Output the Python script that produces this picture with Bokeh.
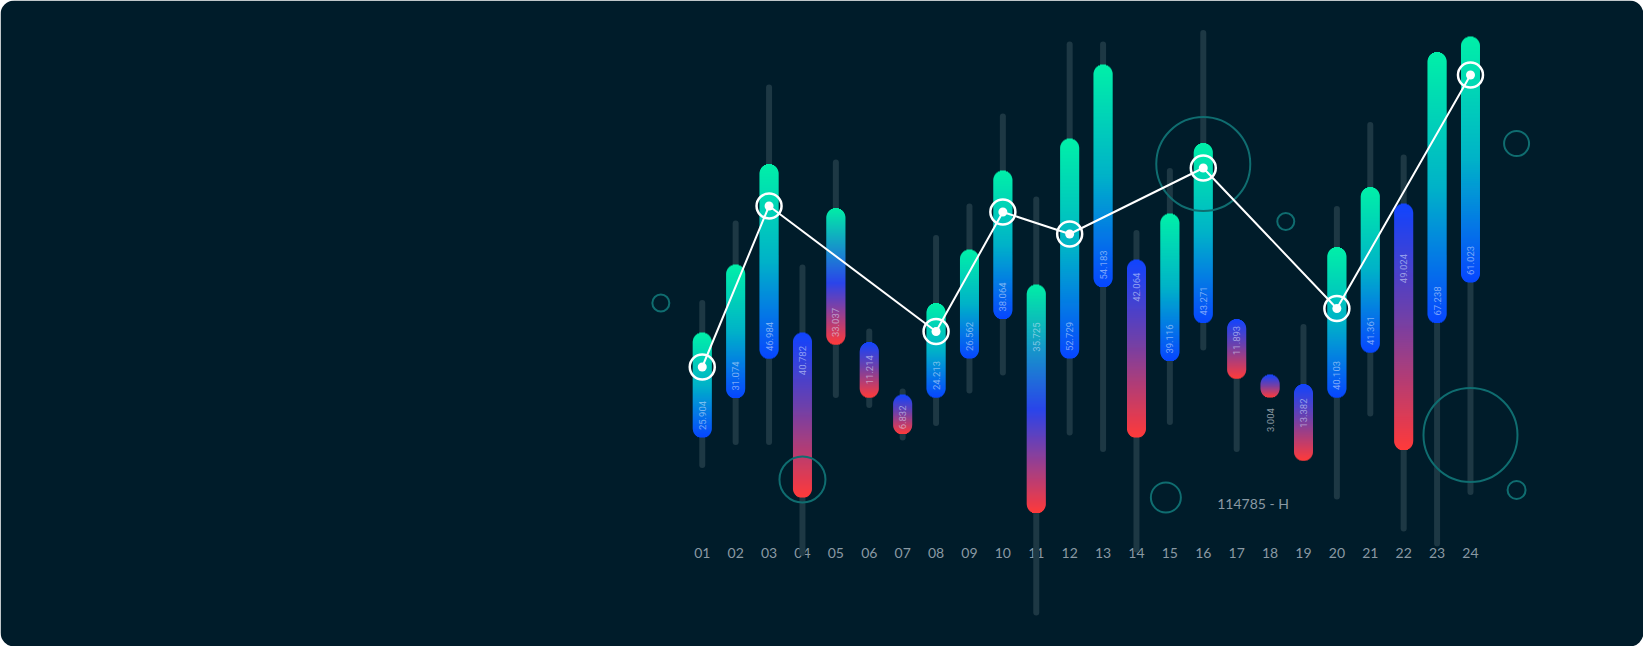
import numpy as np
from bokeh.plotting import figure
from bokeh.models import ColumnDataSource, Range1d, BoxAnnotation
from bokeh.core.properties import value
from bokeh.embed import file_html
from bokeh.resources import INLINE

# ---------------- data (y in arbitrary value units) -------------
hours = ["01", "02", "03", "04", "05", "06", "07", "08", "09", "10", "11", "12",
         "13", "14", "15", "16", "17", "18", "19", "20", "21", "22", "23", "24"]
body_top = [62.8, 76.4, 96.5, 62.8, 87.7, 60.9, 50.4, 68.7, 79.4, 95.2, 72.4, 101.6,
            116.4, 77.4, 86.6, 100.7, 65.5, 54.4, 52.5, 79.9, 91.9, 88.6, 118.9, 122.0]
body_bottom = [41.8, 49.7, 57.6, 29.8, 60.4, 49.8, 42.5, 49.8, 57.6, 65.5, 26.7, 57.6,
               71.9, 41.8, 57.1, 64.7, 53.6, 49.8, 37.2, 49.8, 58.8, 39.3, 64.7, 72.8]
wick_high = [69.3, 85.2, 112.4, 76.4, 97.4, 63.6, 51.6, 82.3, 88.6, 106.6, 90.0, 121.0,
             121.0, 83.3, 95.7, 123.3, 65.5, 54.4, 64.5, 88.1, 104.9, 98.4, 118.9, 122.0]
wick_low = [35.7, 40.3, 40.3, 18.1, 49.7, 47.7, 41.2, 44.1, 50.6, 54.2, 6.2, 42.2,
            38.9, 18.8, 44.3, 59.2, 38.9, 49.8, 37.2, 29.4, 46.0, 23.0, 20.0, 30.3]
body_values = ["25.904", "31.074", "46.984", "40.782", "33.037", "11.214", "6.832", "24.213",
               "26.562", "38.064", "35.725", "52.729", "54.183", "42.064", "39.116", "43.271",
               "11.893", "3.004", "13.382", "40.103", "41.361", "49.024", "67.238", "61.023"]
kind = ["up", "up", "up", "down", "mixed", "down", "down", "up", "up", "up", "mixed", "up",
        "up", "down", "up", "up", "down", "down", "down", "up", "up", "down", "up", "up"]

line_hours = [1, 3, 8, 10, 12, 16, 20, 24]
line_values = [55.9, 88.1, 63.0, 86.9, 82.5, 95.7, 67.6, 114.3]

ring_x = [-0.24, 4.0, 14.88, 16.0, 18.47, 25.38, 24.0, 25.38]
ring_y = [68.7, 33.4, 29.8, 96.5, 85.0, 100.6, 42.3, 31.3]
ring_r = [8.5, 23, 15, 47, 8.5, 12.5, 47, 9]

tag_text = "114785 - H"
tag_x = 17.49
tag_y = 28.6
tick_row_y = 18.8

# ---------------- styles --------------------------------------------------------------
W, H = 1643, 646
X0, X1 = -20.01, 29.18
Y0, Y1 = 0.0, 129.2
PXY = H / (Y1 - Y0)          # pixels per y unit
BG = "#001c2a"
WICK = "#1d3844"
BODY_W = 19.0
R = BODY_W / 2
# where the value label sits in each body ("b" = near bottom, number = fraction from top)
label_place = ["b", "b", "b", 0.17, "b", 0.5, 0.58, "b", "b", "b", 0.23, "b",
               "b", 0.156, "b", "b", 0.36, "out", 0.38, "b", "b", 0.264, "b", "b"]

stops = {
    "up": [(0.0, "#00f0a8"), (0.5, "#00b2c8"), (1.0, "#0746ff")],
    "down": [(0.0, "#1044ff"), (0.45, "#6e40aa"), (1.0, "#ff3a3a")],
    "mixed": [(0.0, "#00eea6"), (0.55, "#2a44ea"), (1.0, "#ff3a3a")],
}


def hex2rgb(h):
    h = h.lstrip("#")
    return np.array([int(h[i:i + 2], 16) for i in (0, 2, 4)], dtype=float)


def grad(st, t):
    t = min(max(t, 0.0), 1.0)
    for (t0, c0), (t1, c1) in zip(st[:-1], st[1:]):
        if t <= t1:
            f = (t - t0) / (t1 - t0) if t1 > t0 else 0
            c = hex2rgb(c0) * (1 - f) + hex2rgb(c1) * f
            return "#%02x%02x%02x" % tuple(int(round(v)) for v in c)
    return st[-1][1]


p = figure(width=W, height=H, x_range=Range1d(X0, X1), y_range=Range1d(Y0, Y1),
           output_backend="svg", toolbar_location=None,
           x_axis_location=None, y_axis_location=None, min_border=0,
           background_fill_color="white", border_fill_color="white",
           outline_line_color=None)
p.grid.grid_line_color = None

card = BoxAnnotation(left=X0, right=X1, bottom=Y0, top=Y1, fill_color=BG, fill_alpha=1,
                     line_color=None, border_radius=14, level="underlay")
p.add_layout(card)

xs = list(range(1, 25))

# tick labels (drawn under wicks, as in the reference)
p.text(x=xs, y=[tick_row_y] * 24, text=hours, text_align="center", text_baseline="middle",
       text_font=value("Lato"), text_font_size="14px", text_color="#8a99a3")

# wicks
wsrc = ColumnDataSource(dict(x=xs, y0=[v - 3 / PXY for v in wick_high],
                             y1=[v + 3 / PXY for v in wick_low]))
p.segment(x0="x", y0="y0", x1="x", y1="y1", source=wsrc, line_width=6,
          line_color=WICK, line_cap="round")

# gradient bodies: 1px slices whose width follows the rounded (stadium) outline
sx, sy0, sy1, sc, sw = [], [], [], [], []
STEP = 1.0
for i, x in enumerate(xs):
    st = stops[kind[i]]
    top, bot = body_top[i], body_bottom[i]
    L = (top - bot) * PXY
    n = int(np.ceil(L / STEP))
    for j in range(n):
        ya_px = j * STEP
        yb_px = min(L, (j + 1) * STEP)
        yc = (ya_px + yb_px) / 2
        if yc < R:
            d = R - yc
        elif yc > L - R:
            d = yc - (L - R)
        else:
            d = 0.0
        w = 2 * np.sqrt(max(R * R - d * d, 0.0))
        if w < 0.5:
            continue
        sx.append(x)
        sy0.append(top - ya_px / PXY)
        sy1.append(top - min(L, yb_px + 0.6) / PXY)
        sc.append(grad(st, yc / L))
        sw.append(w)

ssrc = ColumnDataSource(dict(x=sx, y0=sy0, y1=sy1, c=sc, w=sw))
p.segment(x0="x", y0="y0", x1="x", y1="y1", source=ssrc, line_width="w",
          line_color="c", line_cap="butt")

# value labels inside bodies
lx, ly, lt, ox, oy, ot = [], [], [], [], [], []
for i, x in enumerate(xs):
    pl = label_place[i]
    if pl == "b":
        lx.append(x); ly.append(body_bottom[i] + 22 / PXY); lt.append(body_values[i])
    elif pl == "out":
        ox.append(x); oy.append(body_bottom[i] - 22.6 / PXY); ot.append(body_values[i])
    else:
        lx.append(x); ly.append(body_top[i] - pl * (body_top[i] - body_bottom[i]))
        lt.append(body_values[i])
p.text(x=lx, y=ly, text=lt, angle=np.pi / 2, text_align="center", text_baseline="middle",
       text_font=value("Roboto"), text_font_size="9.5px", text_color="#dfe8ff", text_alpha=0.55)
p.text(x=ox, y=oy, text=ot, angle=np.pi / 2, text_align="center", text_baseline="middle",
       text_font=value("Roboto"), text_font_size="9.5px", text_color="#8796a0")

# decorative rings
p.scatter(x=ring_x, y=ring_y, size=[2 * r for r in ring_r], marker="circle",
          fill_color=None, line_color="#0f6d70", line_width=2)

# tag text
p.text(x=[tag_x], y=[tag_y], text=[tag_text], text_align="center", text_baseline="middle",
       text_font=value("Lato"), text_font_size="14px", text_color="#8a99a3")

# line with markers
p.line(line_hours, line_values, line_color="white", line_width=2)
p.scatter(line_hours, line_values, size=25, marker="circle", fill_color=None,
          line_color="white", line_width=2.5)
p.scatter(line_hours, line_values, size=9, marker="circle", fill_color="white",
          line_color=None)

open("out.html", "w").write(file_html(p, INLINE))
